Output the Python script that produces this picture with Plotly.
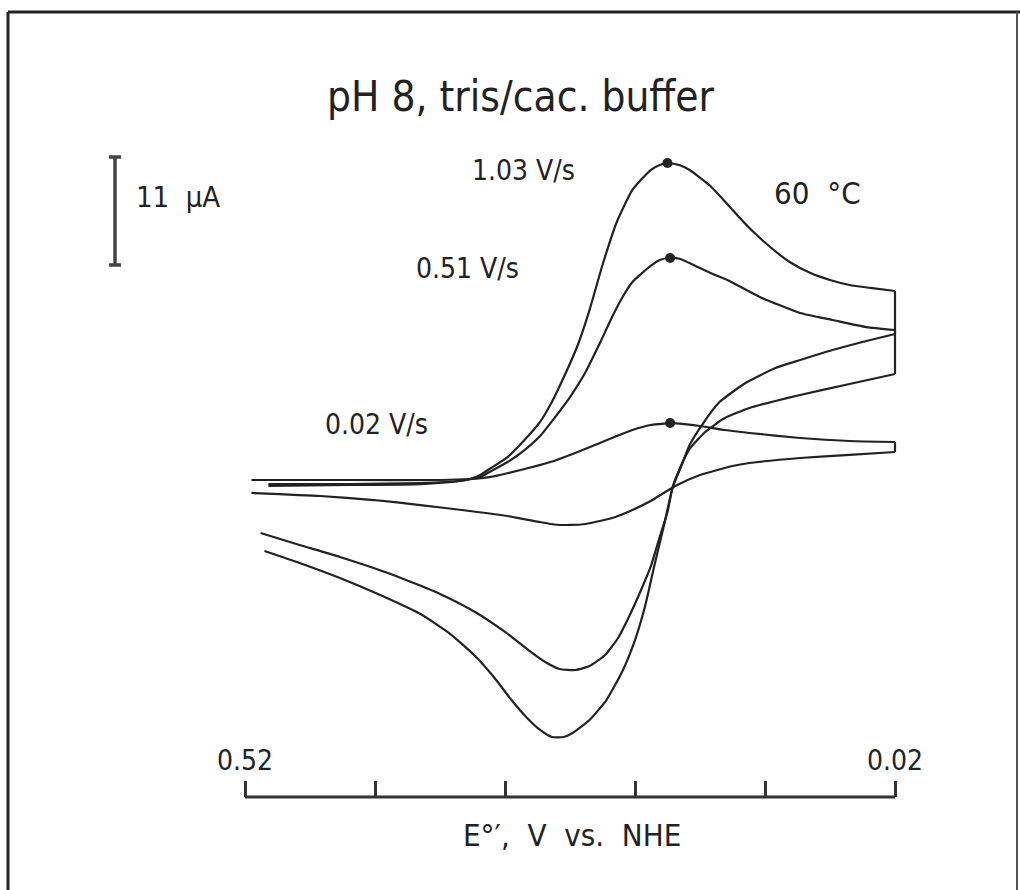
import plotly.graph_objects as go

# ---------------- data (E in V vs. NHE, I in µA) ----------------
scan_rates = ["1.03 V/s", "0.51 V/s", "0.02 V/s"]

E_fwd_103 = [0.502, 0.439, 0.385, 0.355, 0.347, 0.339, 0.332, 0.318, 0.305, 0.293, 0.284, 0.274,
             0.264, 0.255, 0.245, 0.234, 0.222, 0.208, 0.201, 0.195, 0.186, 0.178, 0.162, 0.147,
             0.132, 0.116, 0.101, 0.085, 0.070, 0.055, 0.039, 0.020]
I_fwd_103 = [-0.10, 0.00, 0.10, 0.41, 0.61, 1.02, 1.63, 2.85, 4.58, 6.42, 8.45, 11.20,
             14.26, 17.82, 22.41, 26.79, 30.05, 32.08, 32.59, 32.80, 32.59, 32.08, 30.45, 28.32,
             26.18, 24.24, 22.71, 21.59, 20.88, 20.37, 20.07, 19.76]
E_rev_103 = [0.020, 0.055, 0.093, 0.112, 0.132, 0.151, 0.166, 0.178, 0.185, 0.191, 0.198, 0.205,
             0.212, 0.220, 0.230, 0.242, 0.255, 0.268, 0.275, 0.284, 0.293, 0.303, 0.315, 0.328,
             0.343, 0.362, 0.385, 0.416, 0.447, 0.478, 0.505]
I_rev_103 = [11.31, 10.29, 9.17, 8.56, 7.84, 6.82, 5.40, 3.67, 1.83, -0.20, -4.28, -8.15,
             -12.22, -15.79, -19.05, -21.90, -23.94, -25.26, -25.67, -25.67, -24.95, -23.73, -21.90, -19.66,
             -17.42, -15.18, -13.14, -11.20, -9.47, -7.94, -6.72]

E_fwd_051 = [0.502, 0.439, 0.385, 0.355, 0.339, 0.332, 0.318, 0.305, 0.293, 0.282, 0.270, 0.258,
             0.247, 0.238, 0.230, 0.222, 0.208, 0.201, 0.193, 0.185, 0.175, 0.162, 0.149, 0.124,
             0.093, 0.068, 0.042, 0.020]
I_fwd_051 = [0.10, 0.10, 0.20, 0.41, 0.81, 1.32, 2.34, 3.56, 4.99, 6.82, 8.96, 11.51,
             14.46, 17.01, 19.05, 20.68, 22.31, 22.92, 23.12, 23.02, 22.41, 21.59, 20.88, 19.15,
             17.52, 16.81, 16.09, 15.79]
E_rev_051 = [0.020, 0.042, 0.068, 0.093, 0.112, 0.135, 0.155, 0.168, 0.178, 0.185, 0.191, 0.195,
             0.201, 0.208, 0.216, 0.224, 0.233, 0.243, 0.255, 0.266, 0.278, 0.289, 0.302, 0.320,
             0.343, 0.370, 0.408, 0.447, 0.478, 0.508]
I_rev_051 = [15.38, 14.67, 13.75, 12.73, 11.92, 10.39, 8.45, 6.21, 4.07, 1.73, -0.20, -2.75,
             -5.30, -8.35, -10.90, -13.24, -15.58, -17.31, -18.44, -18.84, -18.74, -18.03, -16.81, -14.97,
             -12.94, -11.10, -9.06, -7.33, -6.11, -4.89]

E_fwd_002 = [0.515, 0.439, 0.370, 0.347, 0.332, 0.308, 0.285, 0.266, 0.247, 0.234, 0.222, 0.208,
             0.201, 0.193, 0.182, 0.170, 0.151, 0.132, 0.093, 0.055, 0.020]
I_fwd_002 = [0.51, 0.51, 0.51, 0.61, 0.81, 1.53, 2.34, 3.26, 4.28, 4.99, 5.60, 6.11,
             6.21, 6.31, 6.21, 6.01, 5.60, 5.30, 4.79, 4.48, 4.38]
E_rev_002 = [0.020, 0.055, 0.093, 0.132, 0.145, 0.170, 0.189, 0.208, 0.222, 0.235, 0.247, 0.258,
             0.270, 0.282, 0.293, 0.318, 0.347, 0.385, 0.421, 0.462, 0.515]
I_rev_002 = [3.36, 3.06, 2.75, 2.24, 1.94, 1.02, -0.10, -1.63, -2.55, -3.26, -3.67, -3.97,
             -4.07, -4.02, -3.77, -3.16, -2.65, -2.04, -1.53, -1.12, -0.81]

peak_E = [0.195, 0.193, 0.193]
peak_I = [32.80, 23.12, 6.31]

tick_vals = [0.52, 0.42, 0.32, 0.22, 0.12, 0.02]
tick_text = ["0.52", "", "", "", "", "0.02"]

scale_bar_uA = 11
scale_bar_low = 22.41

# ---------------- layout constants ----------------
W, H = 1020, 890
E_LEFT, E_RIGHT = 0.70846, -0.07615
I_BOTTOM, I_TOP = -41.25, 49.40
AXIS_I = -31.78
AXIS_POS = (AXIS_I - I_BOTTOM) / (I_TOP - I_BOTTOM)
INK = "#222222"
FONT = "Liberation Sans Narrow, DejaVu Sans Condensed, Roboto Condensed, Roboto, sans-serif"
NB = "\u00a0"

fig = go.Figure()

cvs = [
    (E_fwd_103, I_fwd_103, E_rev_103, I_rev_103),
    (E_fwd_051, I_fwd_051, E_rev_051, I_rev_051),
    (E_fwd_002, I_fwd_002, E_rev_002, I_rev_002),
]
for name, (ef, jf, er, jr) in zip(scan_rates, cvs):
    for ex, iy in ((ef, jf), (er, jr)):
        fig.add_trace(go.Scatter(
            x=ex, y=iy, mode="lines", name=name,
            line=dict(color=INK, width=2.2, shape="spline", smoothing=0.5),
            hoverinfo="skip", showlegend=False))
    # switching-potential segment joining forward and return scans
    fig.add_trace(go.Scatter(
        x=[ef[-1], er[0]], y=[jf[-1], jr[0]], mode="lines", name=name,
        line=dict(color=INK, width=2.2), hoverinfo="skip", showlegend=False))

fig.add_trace(go.Scatter(
    x=peak_E, y=peak_I, mode="markers",
    marker=dict(color=INK, size=10), showlegend=False, hoverinfo="skip"))

# scale bar: 11 µA
fig.add_trace(go.Scatter(
    x=[0.620], y=[scale_bar_low + scale_bar_uA / 2], mode="markers",
    marker=dict(size=0.1, color="rgba(0,0,0,0)"),
    error_y=dict(type="constant", value=scale_bar_uA / 2, color="#444444",
                 thickness=3.5, width=6),
    showlegend=False, hoverinfo="skip"))

# x-axis line
fig.add_shape(type="line", xref="x", yref="y", x0=tick_vals[0], x1=tick_vals[-1],
              y0=AXIS_I, y1=AXIS_I, line=dict(color="#333333", width=3))

# frame
fig.add_shape(type="line", xref="paper", yref="paper", x0=8 / W, x1=8 / W,
              y0=0, y1=1 - 12 / H, line=dict(color=INK, width=3))
fig.add_shape(type="line", xref="paper", yref="paper", x0=8 / W, x1=1,
              y0=1 - 12 / H, y1=1 - 12 / H, line=dict(color=INK, width=3))
fig.add_shape(type="line", xref="paper", yref="paper", x0=1017 / W, x1=1017 / W,
              y0=0, y1=1 - 12 / H, line=dict(color="#555555", width=2))

def label(text, x, y, size=28):
    fig.add_annotation(x=x, y=y, text=text, showarrow=False,
                       font=dict(family=FONT, size=size, color=INK),
                       xanchor="center", yanchor="middle")

label("pH 8, tris/cac. buffer", 0.3077, 39.6, size=42)
label("1.03 V/s", 0.3054, 32.08)
label("0.51 V/s", 0.3492, 22.10)
label("0.02 V/s", 0.4192, 6.21)
label("60" + NB + NB + "°C", 0.0800, 29.74, size=31)
label("11" + NB + NB + "µA", 0.5715, 29.33, size=29)
label("E°′," + NB + NB + "V" + NB + NB + "vs." + NB + NB + "NHE", 0.2685, -35.65, size=31)

fig.update_layout(
    width=W, height=H,
    margin=dict(l=0, r=0, t=0, b=0),
    paper_bgcolor="white", plot_bgcolor="white",
    xaxis=dict(range=[E_LEFT, E_RIGHT], side="top", anchor="free", position=AXIS_POS,
               tickmode="array", tickvals=tick_vals, ticktext=tick_text,
               ticks="outside", ticklen=16, tickwidth=3, tickcolor="#333333",
               showline=False, showgrid=False, zeroline=False,
               tickfont=dict(family=FONT, size=28, color=INK)),
    yaxis=dict(range=[I_BOTTOM, I_TOP], visible=False, showgrid=False, zeroline=False),
)

fig.write_html("out.html")
